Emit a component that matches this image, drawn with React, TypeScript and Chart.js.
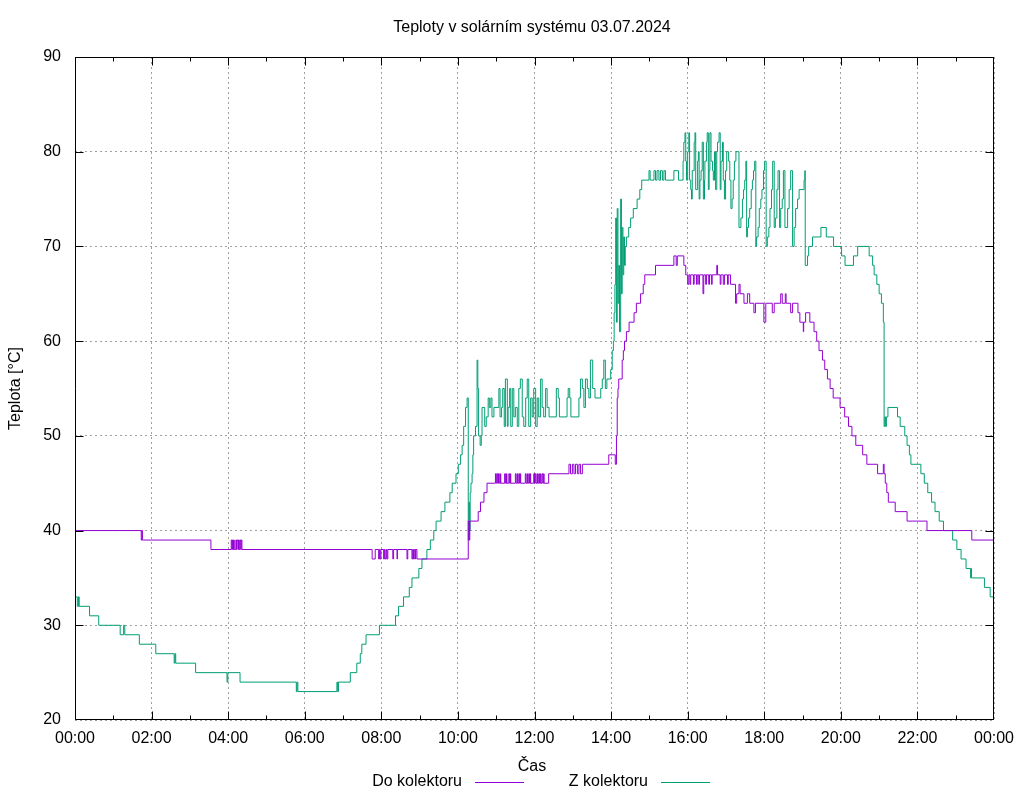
import React, { useEffect, useRef } from 'react';
import { Chart, registerables } from 'chart.js';

Chart.register(...registerables);

const TITLE = 'Teploty v solárním systému 03.07.2024';
const X_TITLE = 'Čas';
const Y_TITLE = 'Teplota [°C]';
const SERIES_NAMES = ['Do kolektoru', 'Z kolektoru'];
const SERIES_COLORS = ['#9400d3', '#009e73'];
const X_MIN = 0;
const X_MAX = 24;
const X_STEP = 2;
const Y_MIN = 20;
const Y_MAX = 90;
const Y_STEP = 10;

// "Do kolektoru" (hours since midnight, °C)
const doTimes = [
  0.0, 1.73, 1.75, 1.76, 3.55, 4.08, 4.1, 4.11, 4.13, 4.14, 4.16, 4.2, 4.22, 4.23, 4.26, 4.27, 4.29, 4.31, 4.33, 4.34, 4.36,
  7.76, 7.84, 7.93, 7.95, 7.97, 7.99, 8.06, 8.08, 8.1, 8.13, 8.15, 8.17, 8.3, 8.32, 8.41, 8.42, 8.67, 8.69, 8.8, 8.82, 8.84, 8.86, 8.89, 8.9, 8.93,
  10.27, 10.29, 10.31, 10.53, 10.59, 10.68, 10.76, 10.98, 11.0, 11.02, 11.04, 11.06, 11.08, 11.11, 11.12, 11.22, 11.24, 11.27, 11.28, 11.33, 11.35, 11.37, 11.38,
  11.5, 11.52, 11.55, 11.56, 11.59, 11.61, 11.63, 11.64, 11.76, 11.78, 11.81, 11.82, 11.85, 11.87, 11.89, 11.9, 11.98, 12.0, 12.02, 12.04, 12.07, 12.08,
  12.11, 12.13, 12.16, 12.17, 12.2, 12.22, 12.24, 12.25, 12.37, 12.9, 12.94, 12.99, 13.03, 13.07, 13.12, 13.16, 13.2, 13.25, 13.94, 14.11,
  14.14, 14.16, 14.18, 14.2, 14.29, 14.32, 14.35, 14.4, 14.47, 14.6, 14.66, 14.77, 14.84, 14.88, 15.16, 15.64, 15.7, 15.73, 15.9, 15.95,
  16.0, 16.03, 16.06, 16.08, 16.15, 16.17, 16.23, 16.25, 16.29, 16.31, 16.4, 16.42, 16.47, 16.49, 16.55, 16.57, 16.62, 16.64, 16.76, 16.78,
  16.85, 16.87, 16.93, 16.96, 17.04, 17.06, 17.12, 17.25, 17.28, 17.34, 17.37, 17.47, 17.56, 17.62, 17.73, 17.77, 17.99, 18.04, 18.21, 18.26,
  18.43, 18.47, 18.55, 18.57, 18.69, 18.74, 18.88, 18.93, 19.02, 19.03, 19.08, 19.19, 19.3, 19.37, 19.43, 19.52, 19.58, 19.65, 19.72, 19.8,
  19.98, 20.1, 20.2, 20.29, 20.39, 20.57, 20.68, 20.96, 21.11, 21.13, 21.16, 21.2, 21.24, 21.42, 21.73, 22.25, 23.42, 24.0,
];
const doValues = [
  40, 39, 40, 39, 38, 39, 38, 39, 38, 39, 38, 39, 38, 39, 38, 39, 38, 39, 38, 39, 38,
  37, 38, 37, 38, 37, 38, 37, 38, 37, 38, 37, 38, 37, 38, 37, 38, 37, 38, 37, 38, 37, 38, 37, 38, 37,
  41, 39, 41, 42, 43, 44, 45, 46, 45, 46, 45, 46, 45, 46, 45, 46, 45, 46, 45, 46, 45, 46, 45,
  46, 45, 46, 45, 46, 45, 46, 45, 46, 45, 46, 45, 46, 45, 46, 45, 46, 45, 46, 45, 46, 45,
  46, 45, 46, 45, 46, 45, 46, 45, 46, 47, 46, 47, 46, 47, 46, 47, 46, 47, 48, 47,
  50, 54, 55, 56, 58, 59, 60, 61, 62, 63, 64, 65, 66, 67, 68, 69, 68, 69, 68, 67,
  66, 67, 66, 67, 66, 67, 66, 67, 66, 67, 65, 67, 66, 67, 66, 67, 66, 67, 68, 67,
  66, 67, 66, 67, 66, 67, 66, 64, 65, 66, 65, 64, 65, 64, 63, 64, 62, 64, 63, 64,
  65, 64, 65, 64, 63, 64, 63, 62, 61, 62, 63, 62, 61, 60, 59, 58, 57, 56, 55, 54,
  53, 52, 51, 50, 49, 48, 47, 46, 47, 46, 45, 44, 43, 42, 41, 40, 39, 39,
];

// "Z kolektoru" (hours since midnight, °C)
const zTimes = [
  0.0, 0.06, 0.09, 0.11, 0.38, 0.62, 1.18, 1.27, 1.3, 1.68, 2.11, 2.59, 2.61, 2.63, 3.15, 3.97, 3.99, 4.31, 5.78, 5.8, 5.82,
  6.84, 6.86, 6.88, 7.19, 7.36, 7.45, 7.49, 7.6, 7.95, 8.37, 8.45, 8.58, 8.73, 8.8, 8.98, 9.06, 9.19, 9.28, 9.37, 9.43, 9.56,
  9.66, 9.79, 9.85, 9.95, 10.01, 10.07, 10.11, 10.15, 10.2, 10.24, 10.27, 10.29, 10.3, 10.32, 10.34, 10.37, 10.39, 10.41, 10.46,
  10.5, 10.52, 10.54, 10.58, 10.61, 10.63, 10.7, 10.74, 10.79, 10.82, 10.86, 10.89, 10.94, 11.07, 11.1, 11.14, 11.17, 11.21, 11.24,
  11.29, 11.31, 11.35, 11.38, 11.42, 11.46, 11.5, 11.55, 11.59, 11.63, 11.68, 11.72, 11.77, 11.81, 11.85, 11.9, 11.94, 11.98, 12.03,
  12.07, 12.11, 12.16, 12.2, 12.24, 12.29, 12.33, 12.38, 12.57, 12.62, 12.65, 12.85, 12.88, 12.92, 12.95, 13.16, 13.2, 13.25, 13.29,
  13.33, 13.38, 13.42, 13.46, 13.52, 13.58, 13.73, 13.77, 13.81, 13.85, 13.89, 13.99, 14.03, 14.06, 14.08, 14.1, 14.12, 14.14, 14.16,
  14.18, 14.2, 14.22, 14.25, 14.27, 14.29, 14.31, 14.33, 14.35, 14.37, 14.4, 14.46, 14.51, 14.58, 14.68, 14.75, 14.8, 14.99, 15.02,
  15.12, 15.16, 15.2, 15.25, 15.29, 15.34, 15.38, 15.42, 15.64, 15.76, 15.88, 15.9, 15.93, 15.95, 15.97, 16.0, 16.03, 16.05, 16.08,
  16.1, 16.12, 16.17, 16.19, 16.21, 16.26, 16.28, 16.3, 16.32, 16.35, 16.38, 16.41, 16.44, 16.45, 16.49, 16.51, 16.54, 16.56, 16.58,
  16.61, 16.65, 16.67, 16.7, 16.73, 16.76, 16.78, 16.82, 16.85, 16.87, 16.91, 16.93, 16.96, 16.99, 17.02, 17.07, 17.1, 17.13, 17.16,
  17.19, 17.22, 17.26, 17.34, 17.39, 17.43, 17.46, 17.49, 17.52, 17.54, 17.56, 17.59, 17.62, 17.66, 17.69, 17.72, 17.75, 17.78, 17.8,
  17.84, 17.87, 17.91, 17.94, 17.98, 18.01, 18.05, 18.08, 18.12, 18.15, 18.19, 18.22, 18.26, 18.29, 18.33, 18.36, 18.4, 18.43, 18.47,
  18.5, 18.54, 18.61, 18.65, 18.69, 18.74, 18.78, 18.82, 18.87, 18.91, 19.04, 19.06, 19.07, 19.13, 19.16, 19.26, 19.48, 19.62, 19.81,
  20.02, 20.11, 20.33, 20.44, 20.74, 20.83, 20.87, 20.94, 21.0, 21.06, 21.11, 21.13, 21.15, 21.17, 21.19, 21.23, 21.48, 21.55, 21.67,
  21.73, 21.79, 21.83, 22.09, 22.18, 22.27, 22.37, 22.46, 22.57, 22.68, 22.92, 23.03, 23.14, 23.27, 23.39, 23.4, 23.41, 23.75, 23.9, 24.0,
];
const zValues = [
  33, 32, 33, 32, 31, 30, 29, 30, 29, 28, 27, 26, 27, 26, 25, 24, 25, 24, 23, 24, 23,
  24, 23, 24, 25, 26, 27, 28, 29, 30, 31, 32, 33, 34, 35, 36, 37, 38, 39, 40, 41, 42,
  43, 44, 45, 46, 47, 48, 49, 51, 53, 54, 39, 43, 40, 44, 45, 46, 48, 50, 51,
  58, 55, 50, 49, 50, 53, 51, 52, 54, 53, 54, 52, 53, 55, 52, 53, 55, 51, 56,
  51, 53, 55, 51, 55, 52, 53, 51, 55, 56, 52, 51, 54, 56, 51, 54, 52, 55, 51,
  54, 52, 56, 53, 52, 55, 53, 52, 55, 54, 52, 54, 55, 54, 52, 54, 56, 55, 53,
  56, 55, 54, 58, 55, 54, 55, 56, 58, 55, 56, 57, 59, 60, 63, 66, 73, 62, 74,
  64, 68, 61, 75, 65, 72, 67, 71, 68, 70, 71, 72, 73, 74, 75, 76, 77, 78, 77,
  78, 77, 78, 77, 78, 77, 78, 77, 78, 77, 79, 81, 82, 79, 77, 80, 82, 77, 76,
  75, 78, 81, 82, 76, 79, 80, 75, 77, 78, 81, 75, 77, 79, 81, 82, 76, 78, 82,
  79, 78, 77, 80, 76, 80, 81, 82, 76, 79, 81, 77, 75, 78, 80, 79, 77, 74, 75,
  77, 79, 80, 72, 73, 75, 76, 77, 79, 71, 72, 73, 74, 76, 77, 78, 79, 70, 71,
  72, 74, 75, 76, 78, 79, 70, 71, 72, 74, 76, 79, 72, 73, 76, 78, 72, 74, 75,
  78, 72, 74, 76, 78, 70, 72, 74, 75, 76, 77, 78, 68, 69, 70, 71, 72, 71, 70,
  69, 68, 69, 70, 69, 68, 67, 66, 65, 64, 62, 51, 52, 51, 52, 53, 52, 51, 50,
  49, 48, 47, 46, 45, 44, 43, 42, 41, 40, 39, 38, 37, 36, 35, 36, 35, 34, 33, 33,
];

const FONT_FAMILY = '"Liberation Sans", Arial, sans-serif';

function toPoints(times: number[], values: number[]) {
  return times.map((t, i) => ({ x: t, y: values[i] }));
}

function hourLabel(v: number) {
  const h = Math.round(v) % 24;
  return (h < 10 ? '0' : '') + h + ':00';
}

const gnuplotFrame = {
  id: 'gnuplotFrame',
  afterDatasetsDraw(chart: any) {
    const { ctx, chartArea, scales } = chart;
    const L = Math.round(chartArea.left) + 0.5;
    const R = Math.round(chartArea.right) - 0.5;
    const T = Math.round(chartArea.top) + 0.5;
    const B = Math.round(chartArea.bottom) - 0.5;
    const xs = scales.x;
    const ys = scales.y;
    ctx.save();
    ctx.strokeStyle = '#000';
    ctx.lineWidth = 1;
    ctx.setLineDash([]);
    ctx.beginPath();
    ctx.moveTo(L, T);
    ctx.lineTo(R, T);
    ctx.moveTo(R, T);
    ctx.lineTo(R, B);
    ctx.moveTo(R, B);
    ctx.lineTo(L, B);
    ctx.moveTo(L, B);
    ctx.lineTo(L, T);
    ctx.stroke();
    ctx.beginPath();
    for (let h = X_MIN; h <= X_MAX; h += 1) {
      let px = Math.round(xs.getPixelForValue(h)) + 0.5;
      if (px > R) px = R;
      const len = h % X_STEP === 0 ? 8 : 4;
      ctx.moveTo(px, B);
      ctx.lineTo(px, B - len);
      ctx.moveTo(px, T);
      ctx.lineTo(px, T + len);
    }
    for (let v = Y_MIN; v <= Y_MAX; v += Y_STEP) {
      let py = Math.round(ys.getPixelForValue(v)) + 0.5;
      if (py > B) py = B;
      ctx.moveTo(L, py);
      ctx.lineTo(L + 8, py);
      ctx.moveTo(R, py);
      ctx.lineTo(R - 8, py);
    }
    ctx.stroke();
    ctx.restore();
  },
  afterDraw(chart: any) {
    const { ctx, chartArea } = chart;
    const { top, bottom } = chartArea;
    ctx.save();
    ctx.fillStyle = '#000';
    ctx.font = '16px ' + FONT_FAMILY;
    ctx.textBaseline = 'middle';
    ctx.textAlign = 'center';
    ctx.fillText(TITLE, 532, 28);
    ctx.fillText(X_TITLE, 532, 767);
    ctx.save();
    ctx.translate(16, (top + bottom) / 2);
    ctx.rotate(-Math.PI / 2);
    ctx.fillText(Y_TITLE, 0, 0);
    ctx.restore();
    // legend: text then line sample
    const legendY = 782;
    const textRight = [462, 648];
    chart.data.datasets.forEach((ds: any, i: number) => {
      ctx.textAlign = 'right';
      ctx.fillStyle = '#000';
      ctx.fillText(ds.label, textRight[i], legendY);
      ctx.strokeStyle = ds.borderColor;
      ctx.lineWidth = 1;
      ctx.beginPath();
      ctx.moveTo(textRight[i] + 13, legendY + 0.5);
      ctx.lineTo(textRight[i] + 62, legendY + 0.5);
      ctx.stroke();
    });
    ctx.restore();
  },
};

export default function App() {
  const canvasRef = useRef<HTMLCanvasElement | null>(null);

  useEffect(() => {
    const canvas = canvasRef.current;
    if (!canvas) return;
    const chart = new Chart(canvas, {
      type: 'line',
      data: {
        datasets: [
          {
            label: SERIES_NAMES[0],
            data: toPoints(doTimes, doValues),
            borderColor: SERIES_COLORS[0],
            backgroundColor: SERIES_COLORS[0],
            borderWidth: 1,
            pointRadius: 0,
            stepped: true,
            fill: false,
          },
          {
            label: SERIES_NAMES[1],
            data: toPoints(zTimes, zValues),
            borderColor: SERIES_COLORS[1],
            backgroundColor: SERIES_COLORS[1],
            borderWidth: 1,
            pointRadius: 0,
            stepped: true,
            fill: false,
          },
        ],
      },
      options: {
        responsive: false,
        animation: false,
        events: [],
        layout: { padding: { left: 0, right: 30, top: 57, bottom: 0 } },
        plugins: {
          legend: { display: false },
          title: { display: false },
          tooltip: { enabled: false },
        },
        scales: {
          x: {
            type: 'linear',
            min: X_MIN,
            max: X_MAX,
            afterFit: (s: any) => {
              s.height = 80;
            },
            ticks: {
              stepSize: X_STEP,
              autoSkip: false,
              maxRotation: 0,
              padding: 9,
              color: '#000',
              font: { family: FONT_FAMILY, size: 16 },
              callback: (v: any) => hourLabel(Number(v)),
            },
            grid: { color: '#a0a0a0', lineWidth: 1, drawTicks: false },
            border: { display: false, dash: [2, 3] },
          },
          y: {
            type: 'linear',
            min: Y_MIN,
            max: Y_MAX,
            afterFit: (s: any) => {
              s.width = 75;
            },
            ticks: {
              stepSize: Y_STEP,
              padding: 14,
              color: '#000',
              font: { family: FONT_FAMILY, size: 16 },
            },
            grid: { color: '#a0a0a0', lineWidth: 1, drawTicks: false },
            border: { display: false, dash: [2, 3] },
          },
        },
      },
      plugins: [gnuplotFrame],
    });
    return () => chart.destroy();
  }, []);

  return (
    <div style={{ position: 'absolute', left: 0, top: 0, width: 1024, height: 800, background: '#fff' }}>
      <canvas ref={canvasRef} width={1024} height={800} style={{ display: 'block' }} />
    </div>
  );
}
